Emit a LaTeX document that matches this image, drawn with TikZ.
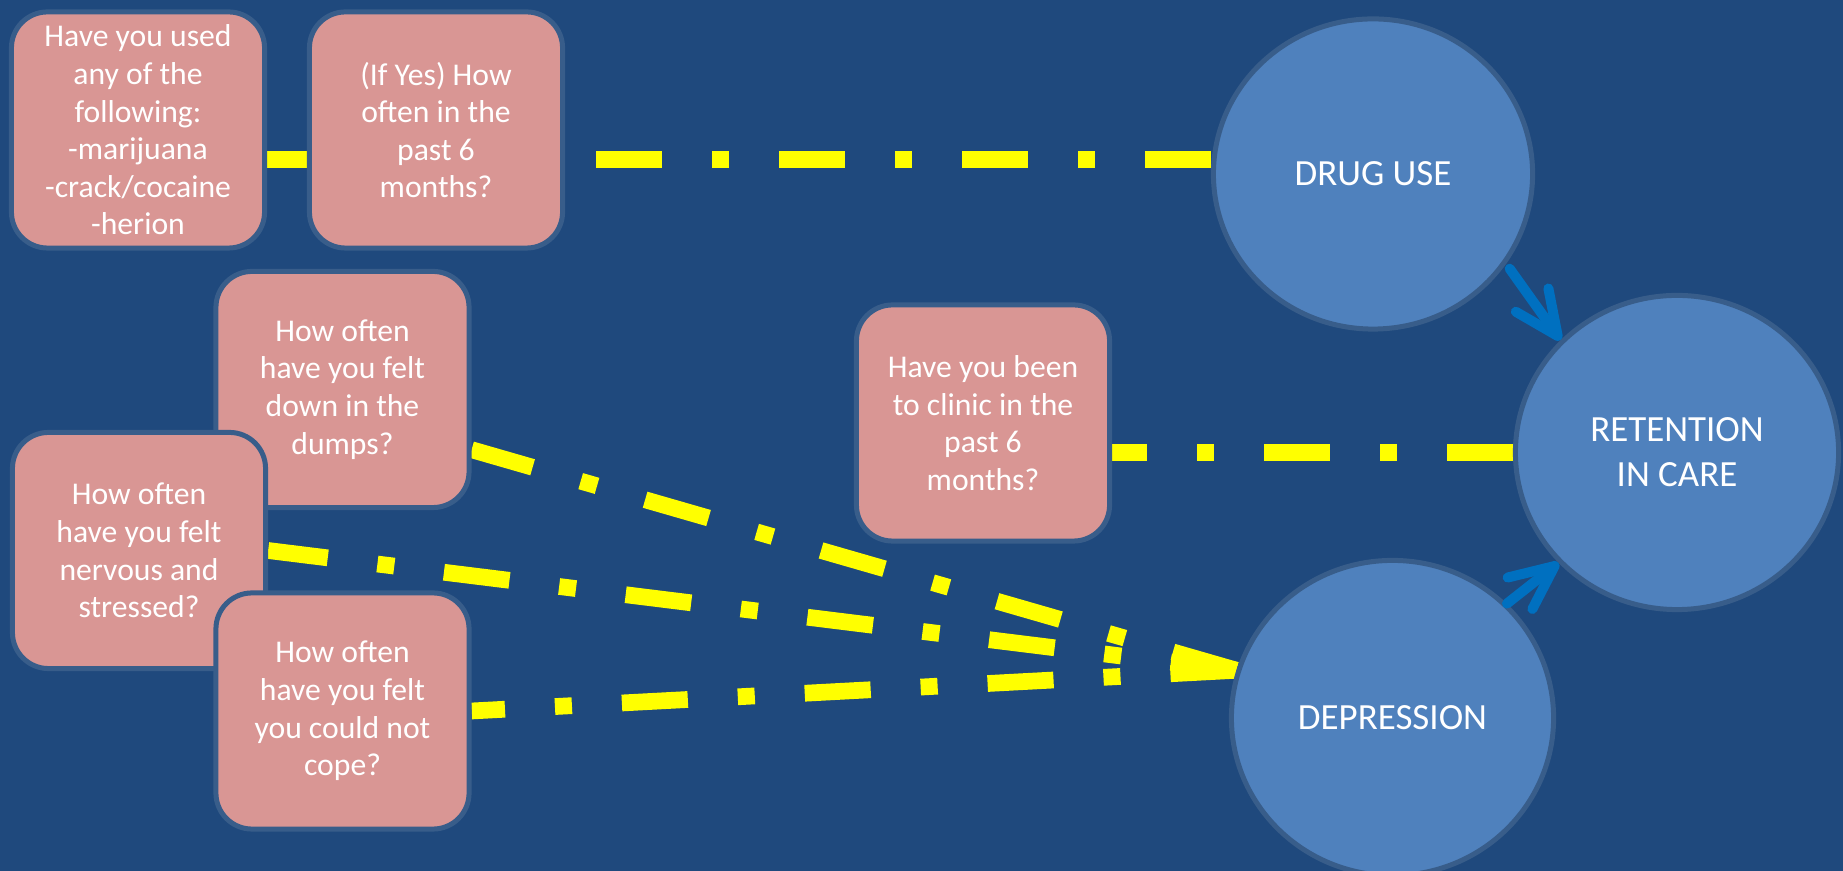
\documentclass[tikz,border=0pt]{standalone}
\usepackage{fontspec}
\setmainfont{Carlito}
\usetikzlibrary{shapes.geometric,arrows.meta}
\definecolor{slide}{RGB}{31,73,125}
\definecolor{boxfill}{RGB}{217,150,148}
\definecolor{edge}{RGB}{56,93,138}
\definecolor{bubble}{RGB}{79,129,189}
\definecolor{flowblue}{RGB}{0,112,192}
\definecolor{hi}{RGB}{255,255,0}
\pgfdeclarelayer{back}
\pgfdeclarelayer{conn}
\pgfsetlayers{back,conn,main}
\tikzset{
  qbox/.style={draw=edge, line width=0.05cm, fill=boxfill, rounded corners=0.36cm,
    minimum width=2.53cm, minimum height=2.36cm, inner sep=0pt, align=center,
    text=white, font=\fontsize{9}{10.7}\selectfont},
  factor/.style={ellipse, draw=edge, line width=0.05cm, fill=bubble, inner sep=0pt,
    align=center, text=white, font=\fontsize{10.5}{12.8}\selectfont},
  yline/.style={draw=hi, line width=0.167cm,
    dash pattern=on 0.66cm off 0.5cm on 0.17cm off 0.5cm},
  effect/.style={draw=flowblue, line width=0.1cm, line cap=round,
    -{Straight Barb[length=4.4mm,width=4mm,round]}},
}
\begin{document}
\begin{tikzpicture}[x=0.01cm,y=-0.01cm]
\begin{pgfonlayer}{back}
  \fill[slide] (0,0) rectangle (1843,871);
\end{pgfonlayer}
\useasboundingbox (0,0) rectangle (1843,871);

% question boxes
\node[qbox] (used) at (138,130) {Have you used\\any of the\\following:\\-marijuana\\-crack/cocaine\\-herion};
\node[qbox] (often) at (436,130) {(If Yes) How\\often in the\\past 6\\months?};
\node[qbox] (dumps) at (342.5,389.5) {How often\\have you felt\\down in the\\dumps?};
\node[qbox] (nervous) at (139,550.5) {How often\\have you felt\\nervous and\\stressed?};
\node[qbox] (cope) at (342.5,711) {How often\\have you felt\\you could not\\cope?};
\node[qbox] (clinic) at (983,423) {Have you been\\to clinic in the\\past 6\\months?};

% constructs
\node[factor, minimum width=3.19cm, minimum height=3.10cm] (drug) at (1373,174) {DRUG USE};
\node[factor, minimum width=3.23cm, minimum height=3.14cm] (ret) at (1677,452.5) {RETENTION\\IN CARE};
\node[factor, minimum width=3.22cm, minimum height=3.15cm] (dep) at (1392.5,718) {DEPRESSION};

% measurement links
\begin{pgfonlayer}{conn}
  \draw[yline] (used.-13.3) -- (often.west |- used.-13.3);
  \draw[yline] (drug.west |- often.-13.6) -- (often.-13.6);
  \draw[yline] (ret.west) -- (ret.west -| clinic.east);
  \draw[yline] (dep.163) -- (dumps.-25.8);
  \draw[yline] (dep.163) -- (nervous.east);
  \draw[yline] (dep.163) -- (cope.east);
\end{pgfonlayer}

% effects on retention
\draw[effect, shorten <=0.06cm] (drug.-34) -- (ret.136);
\draw[effect] (dep.45) -- (ret.223);
\end{tikzpicture}
\end{document}
